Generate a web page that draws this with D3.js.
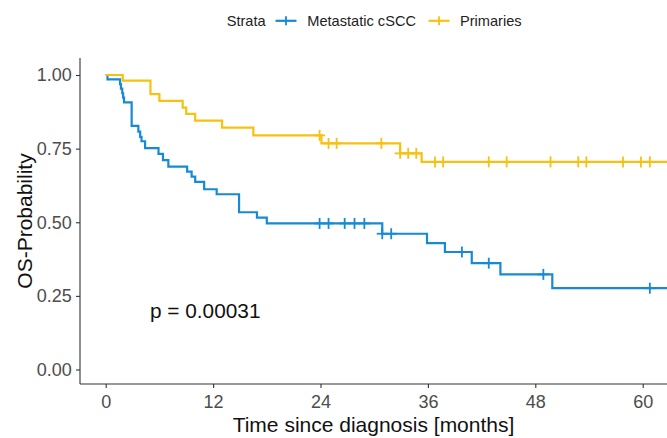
<!DOCTYPE html>
<html>
<head>
<meta charset="utf-8">
<script src="https://cdn.jsdelivr.net/npm/d3@7"></script>
<style>
  html, body { margin: 0; padding: 0; background: #fff; }
  svg text { font-family: "Liberation Sans", Arial, sans-serif; }
</style>
</head>
<body>
<svg id="km" width="667" height="438"></svg>
<script>
// Kaplan-Meier step data
const metaTimes = [0, 0.2, 1.6, 1.7, 1.85, 1.95, 2.05, 2.9, 3.65, 3.85, 4.0, 4.4, 5.9, 6.4, 7.0,
  9.1, 9.6, 10.0, 11.0, 12.4, 14.9, 16.9, 18.0, 30.9, 35.9, 37.9, 40.9, 44.1, 49.9];
const metaSurv = [1, 0.985, 0.969, 0.954, 0.938, 0.923, 0.907, 0.827, 0.808, 0.79, 0.775, 0.752, 0.732, 0.711, 0.689,
  0.672, 0.655, 0.637, 0.612, 0.595, 0.534, 0.516, 0.496, 0.461, 0.429, 0.399, 0.361, 0.323, 0.276];
const metaCensor = [23.9, 24.9, 26.7, 27.8, 28.9, 30.9, 31.9, 39.8, 42.8, 48.9, 60.8];

const primTimes = [0, 1.9, 5.0, 6.0, 8.6, 9.0, 10.0, 13.0, 16.5, 24.1, 32.9, 35.3];
const primSurv = [1, 0.981, 0.935, 0.912, 0.889, 0.868, 0.845, 0.821, 0.795, 0.768, 0.734, 0.705];
const primCensor = [23.9, 24.9, 25.8, 30.8, 32.9, 33.8, 34.7, 36.8, 37.7, 42.8, 44.8, 49.7,
  52.8, 53.7, 57.8, 59.8, 60.8];

const xTicks = [0, 12, 24, 36, 48, 60];
const yTicks = [0, 0.25, 0.5, 0.75, 1];
const pText = "p = 0.00031";

const series = [
  {name: "Metastatic cSCC", color: "#168ad4", times: metaTimes, surv: metaSurv, censor: metaCensor},
  {name: "Primaries", color: "#f6c10f", times: primTimes, surv: primSurv, censor: primCensor}
];

const width = 667;
const panel = {left: 80, right: 667, top: 58, bottom: 384};

const svg = d3.select("#km");

const xScale = d3.scaleLinear().domain([0, 60]).range([105.7, 642.7]);
const yScale = d3.scaleLinear().domain([0, 1]).range([369.5, 75]);

svg.append("defs").append("clipPath").attr("id", "panelClip")
  .append("rect")
  .attr("x", panel.left).attr("y", panel.top - 10)
  .attr("width", panel.right - panel.left).attr("height", panel.bottom - panel.top + 10);

// axes
const xAxis = svg.append("g")
  .attr("transform", `translate(0,${panel.bottom})`)
  .call(d3.axisBottom(xScale).tickValues(xTicks).tickSize(4).tickPadding(7).tickSizeOuter(0));
xAxis.select(".domain").remove();
xAxis.selectAll(".tick line").attr("stroke", "#333").attr("stroke-width", 1.1);
xAxis.selectAll(".tick text").attr("fill", "#4d4d4d").style("font-size", "18px");

const yAxis = svg.append("g")
  .attr("transform", `translate(${panel.left},0)`)
  .call(d3.axisLeft(yScale).tickValues(yTicks).tickFormat(d3.format(".2f")).tickSize(4).tickPadding(4.3));
yAxis.select(".domain").remove();
yAxis.selectAll(".tick line").attr("stroke", "#333").attr("stroke-width", 1.1);
yAxis.selectAll(".tick text").attr("fill", "#4d4d4d").style("font-size", "18px");

svg.append("line")
  .attr("x1", panel.left).attr("x2", panel.right)
  .attr("y1", panel.bottom).attr("y2", panel.bottom)
  .attr("stroke", "#333").attr("stroke-width", 1.1);
svg.append("line")
  .attr("x1", panel.left).attr("x2", panel.left)
  .attr("y1", panel.top).attr("y2", panel.bottom)
  .attr("stroke", "#333").attr("stroke-width", 1.1);

// curves
const line = d3.line()
  .x(d => xScale(d[0]))
  .y(d => yScale(d[1]))
  .curve(d3.curveStepAfter);

const endTime = xScale.invert(width + 5);
const plotG = svg.append("g").attr("clip-path", "url(#panelClip)");

function survAt(s, t) {
  let v = s.surv[0];
  s.times.forEach((tt, i) => { if (tt <= t) v = s.surv[i]; });
  return v;
}

series.forEach(s => {
  const pts = s.times.map((t, i) => [t, s.surv[i]]);
  pts.push([endTime, s.surv[s.surv.length - 1]]);
  plotG.append("path")
    .datum(pts)
    .attr("fill", "none")
    .attr("stroke", s.color)
    .attr("stroke-width", 2.2)
    .attr("d", line);

  const marks = plotG.append("g").attr("stroke", s.color).attr("stroke-width", 1.8);
  s.censor.forEach(t => {
    const cx = xScale(t), cy = yScale(survAt(s, t));
    marks.append("line").attr("x1", cx - 5.5).attr("x2", cx + 5.5).attr("y1", cy).attr("y2", cy);
    marks.append("line").attr("x1", cx).attr("x2", cx).attr("y1", cy - 5.5).attr("y2", cy + 5.5);
  });
});

// p-value
svg.append("text")
  .attr("x", 150).attr("y", 318)
  .style("font-size", "20.8px")
  .attr("fill", "#111")
  .text(pText);

// axis titles
svg.append("text")
  .attr("x", (panel.left + panel.right) / 2).attr("y", 432)
  .attr("text-anchor", "middle")
  .style("font-size", "21px")
  .attr("fill", "#111")
  .text("Time since diagnosis [months]");

svg.append("text")
  .attr("transform", `translate(32,${(panel.top + panel.bottom) / 2}) rotate(-90)`)
  .attr("text-anchor", "middle")
  .style("font-size", "21px")
  .attr("fill", "#111")
  .text("OS-Probability");

// legend
const legend = svg.append("g").style("font-size", "14.6px");
legend.append("text").attr("x", 226.7).attr("y", 26.3).attr("fill", "#222").text("Strata");
const legendKeys = [286, 439];
const legendText = [307.3, 460];
series.forEach((s, i) => {
  const kx = legendKeys[i], ky = 20.8;
  legend.append("line").attr("x1", kx - 10.5).attr("x2", kx + 10.5).attr("y1", ky).attr("y2", ky)
    .attr("stroke", s.color).attr("stroke-width", 2.2);
  legend.append("line").attr("x1", kx).attr("x2", kx).attr("y1", ky - 4.5).attr("y2", ky + 4.5)
    .attr("stroke", s.color).attr("stroke-width", 1.8);
  legend.append("text").attr("x", legendText[i]).attr("y", 26.3).attr("fill", "#222").text(s.name);
});
</script>
</body>
</html>
